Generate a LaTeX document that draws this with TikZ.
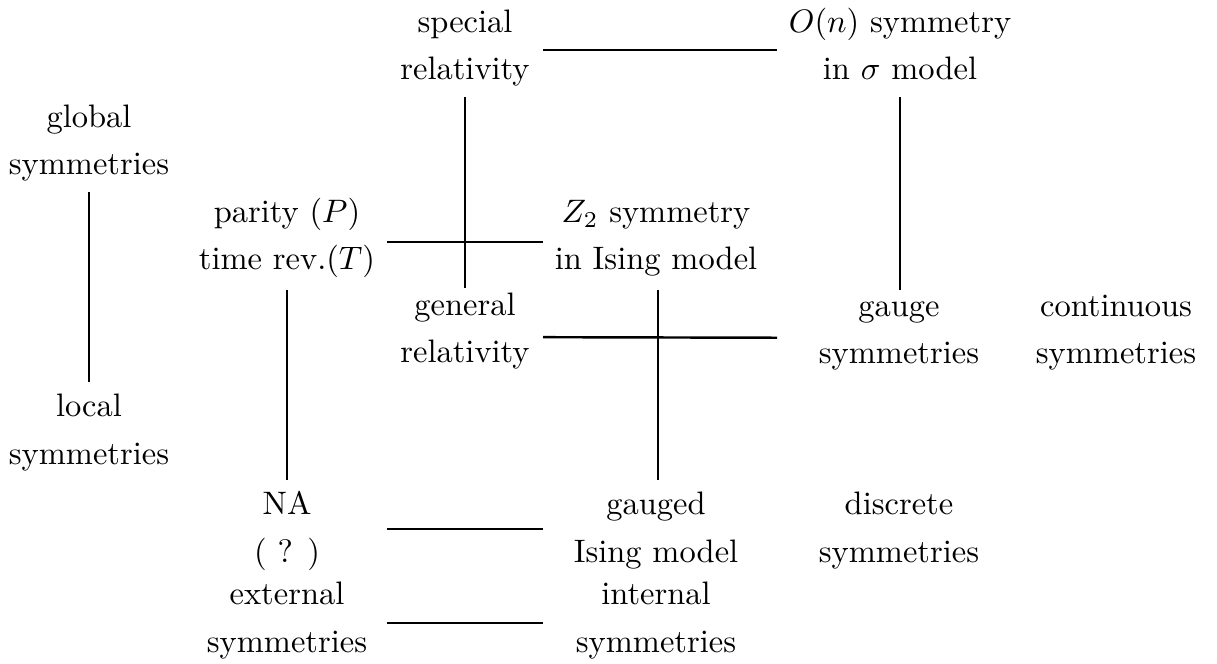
\documentclass[tikz,border=0pt]{standalone}
\newdimen\pxu \pxu=0.3077pt
\begin{document}
\begin{tikzpicture}[x=0.3077pt,y=-0.3077pt,
  lbl/.style={align=center,inner sep=0pt,font=\fontsize{10pt}{14.5pt}\selectfont},
  link/.style={line width=0.75pt}]
\useasboundingbox (0,0) rectangle (1217,663);
\node[lbl] (sr) at (465,47) {\strut special\\\strut relativity};
\node[lbl] (on) at (900,47) {\strut $O(n)$ symmetry\\\strut in $\sigma$ model};
\node[lbl] (gl) at (89,142) {\strut global\\\strut symmetries};
\node[lbl] (pt) at (287,237) {\strut parity ($P$)\\\strut time rev.($T$)};
\node[lbl] (z2) at (656,237) {\strut $Z_2$ symmetry\\\strut in Ising model};
\node[lbl] (gr) at (465,330) {\strut general\\\strut relativity};
\node[lbl] (ga) at (899,331) {\strut gauge\\\strut symmetries};
\node[lbl] (co) at (1116,331) {\strut continuous\\\strut symmetries};
\node[lbl] (lo) at (89,431) {\strut local\\\strut symmetries};
\node[lbl] (na) at (287,529) {\strut NA\\\strut ( ? )};
\node[lbl] (gi) at (656,529) {\strut gauged\\\strut Ising model};
\node[lbl] (di) at (899,529) {\strut discrete\\\strut symmetries};
\node[lbl] (ex) at (287,619) {\strut external\\\strut symmetries};
\node[lbl] (in) at (656,619) {\strut internal\\\strut symmetries};
% horizontal links
\draw[link,shorten <=78\pxu,shorten >=123\pxu] ([yshift=-3\pxu]sr.center) -- ([yshift=-3\pxu]on.center);
\draw[link,shorten <=100\pxu,shorten >=113\pxu] ([yshift=-5\pxu]pt.center) -- ([yshift=-5\pxu]z2.center);
\draw[link,shorten <=78\pxu,shorten >=122\pxu] ([yshift=-7\pxu]gr.center) -- ([yshift=-7\pxu]ga.center);
\draw[link,shorten <=100\pxu,shorten >=113\pxu] (na.center) -- (gi.center);
\draw[link,shorten <=100\pxu,shorten >=113\pxu] ([yshift=-4\pxu]ex.center) -- ([yshift=-4\pxu]in.center);
% vertical links
\draw[link,shorten <=50\pxu,shorten >=42\pxu] (sr.center) -- (gr.center);
\draw[link,shorten <=50\pxu,shorten >=41\pxu] (on.center) -- (on.center |- ga.center);
\draw[link,shorten <=50\pxu,shorten >=49\pxu] (gl.center) -- (lo.center);
\draw[link,shorten <=53\pxu,shorten >=49\pxu] (pt.center) -- (na.center);
\draw[link,shorten <=53\pxu,shorten >=49\pxu] ([xshift=2\pxu]z2.center) -- ([xshift=2\pxu]gi.center);
\end{tikzpicture}
\end{document}
